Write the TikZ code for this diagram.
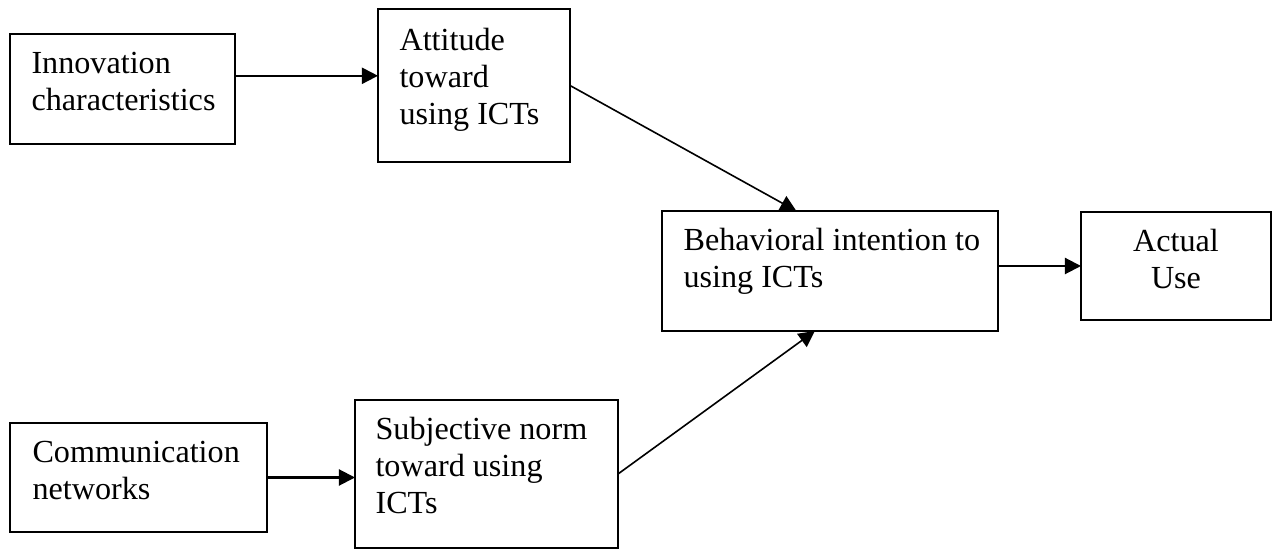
\documentclass[tikz,border=0pt]{standalone}
\usepackage{fontspec}
\setmainfont{Liberation Serif}
\usetikzlibrary{arrows.meta,calc}
\def\pu{0.3731pt}
\begin{document}
\begin{tikzpicture}[x=0.3731pt, y=-0.3731pt,
  box/.style={draw, line width=0.75pt, inner sep=0pt, outer sep=0pt},
  lbl/.style={inner sep=0pt, align=left, font=\fontsize{12}{13.8}\selectfont},
  link/.style={line width=0.75pt, -{Triangle[length=6pt,width=6pt]}},
  slant/.style={line width=0.6pt, -{Triangle[length=6pt,width=6pt]}}]
\useasboundingbox (0,0) rectangle (1273,550);

% boxes
\node[box, minimum width=225*\pu, minimum height=110*\pu] (inn)  at (122.5,89)  {};
\node[box, minimum width=192*\pu, minimum height=153*\pu] (att)  at (474,85.5)  {};
\node[box, minimum width=336*\pu, minimum height=120*\pu] (beh)  at (830,271)   {};
\node[box, minimum width=190*\pu, minimum height=108*\pu] (act)  at (1176,266)  {};
\node[box, minimum width=257*\pu, minimum height=109*\pu] (comm) at (138.5,477.5) {};
\node[box, minimum width=263*\pu, minimum height=148*\pu] (subj) at (486.5,474) {};

% box texts
\node[lbl, anchor=north west] (innT)  at ($(inn.north west)+(21,13)$)  {\strut Innovation\\characteristics};
\node[lbl, anchor=north west] (attT)  at ($(att.north west)+(21,15)$)  {\strut Attitude\\toward\\using ICTs};
\node[lbl, anchor=north west] (behT)  at ($(beh.north west)+(21,13)$)  {\strut Behavioral intention to\\using ICTs};
\node[lbl, align=center, anchor=north] (actT) at ($(act.north)+(0,13)$) {\strut Actual\\Use};
\node[lbl, anchor=north west] (commT) at ($(comm.north west)+(22,13)$) {\strut Communication\\networks};
\node[lbl, anchor=north west] (subjT) at ($(subj.north west)+(20,13)$) {\strut Subjective norm\\toward using\\ICTs};

% connectors
\coordinate (innOut) at ($(inn.north east)!0.38!(inn.south east)$);
\draw[link] (innOut) -- (innOut -| att.west);
\draw[slant] (att.east) -- ($(beh.north west)!0.4!(beh.north east)$);
\draw[link] (beh.east |- act.west) -- (act.west);
\draw[link] (comm.east) -- (comm.east -| subj.west);
\draw[slant] (subj.east) -- ($(beh.south west)!0.455!(beh.south east)$);
\end{tikzpicture}
\end{document}
